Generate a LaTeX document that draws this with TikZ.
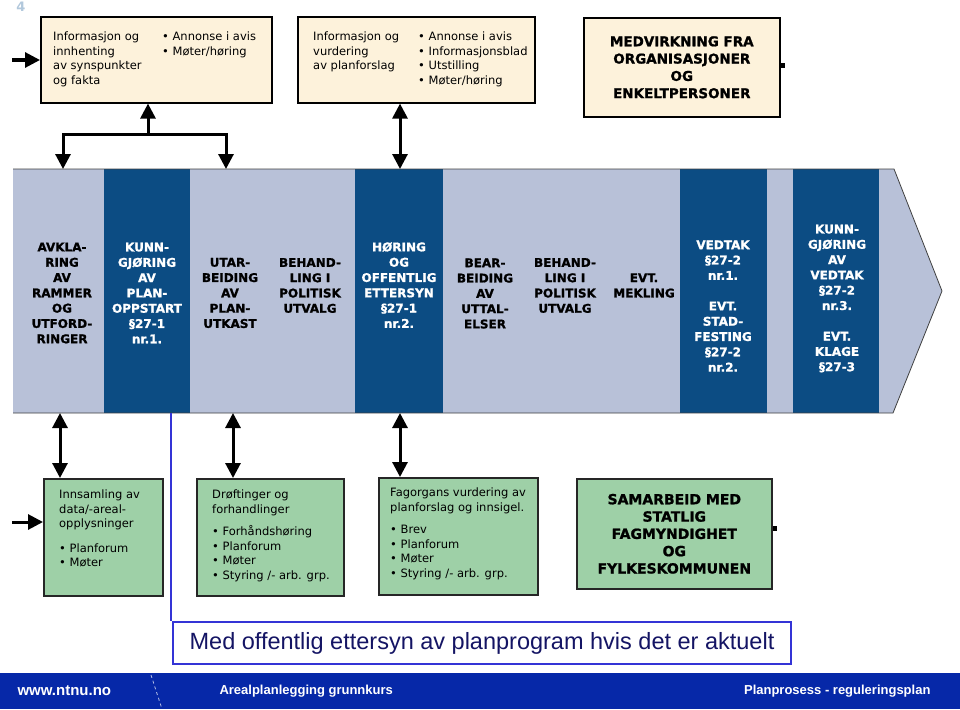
\documentclass[tikz,border=0pt]{standalone}
\usepackage{fontspec}
\setmainfont{DejaVu Sans}
\newfontfamily\heavyfont[FakeBold=1.2]{DejaVu Sans Bold}
\newfontfamily\arialfont{Liberation Sans}
\usetikzlibrary{arrows.meta}
\definecolor{cream}{RGB}{253,242,219}
\definecolor{planlight}{RGB}{184,193,216}
\definecolor{plandark}{RGB}{12,76,131}
\definecolor{mossgreen}{RGB}{158,208,167}
\definecolor{linkblue}{RGB}{52,52,214}
\definecolor{notenavy}{RGB}{20,20,100}
\definecolor{footblue}{RGB}{6,40,168}
\definecolor{slidegrey}{RGB}{178,200,220}

\begin{document}
\begin{tikzpicture}[x=1pt, y=-1pt,
    body/.style={anchor=north west, align=left, inner sep=0pt, font=\fontsize{11.5}{14.5}\selectfont},
    heavy/.style={align=center, inner sep=0pt, font=\heavyfont\fontsize{12}{15.3}\selectfont},
    infobox/.style={draw=black, line width=1.6pt, fill=cream, anchor=north west, inner sep=0pt},
    greenbox/.style={draw=black!85, line width=1.6pt, fill=mossgreen, anchor=north west, inner sep=0pt},
    arr/.style={line width=3pt, line join=miter, -{Triangle[length=15pt,width=15pt]}},
    arrboth/.style={line width=3pt, {Triangle[length=15pt,width=15pt]}-{Triangle[length=15pt,width=15pt]}}]
    \useasboundingbox (0,0) rectangle (960,709);
    \node[font=\bfseries\fontsize{13}{13}\selectfont, text=slidegrey] (slideno) at (21,7) {4};

    \node[infobox, minimum width=231pt, minimum height=86pt] (info1) at (40,16) {};
    \node[body] (info1txt) at (53,32) {Informasjon og\\innhenting\\av synspunkter\\og fakta};
    \node[body] (info1list) at (162,32) {• Annonse i avis\\• Møter/høring};
    \node[infobox, minimum width=237pt, minimum height=86pt] (info2) at (297,16) {};
    \node[body] (info2txt) at (313,32) {Informasjon og\\vurdering\\av planforslag};
    \node[body] (info2list) at (418,32) {• Annonse i avis\\• Informasjonsblad\\• Utstilling\\• Møter/høring};
    \node[infobox, heavy, font=\heavyfont\fontsize{13.5}{17.3}\selectfont, minimum width=196pt, minimum height=99pt] (medv) at (583,17) {MEDVIRKNING FRA\\ORGANISASJONER\\OG\\ENKELTPERSONER};
    \fill (medv.east) ++(0,-4) rectangle ++(4,5);

    \fill[planlight] (13,169) -- (894,169) -- (942,291) -- (893,413) -- (13,413) -- cycle;
    \foreach \a/\b in {104/190, 355/443, 680/767, 793/879}
        \fill[plandark] (\a,169) rectangle (\b,413);
    \draw[black!75, line width=0.8pt] (13,169) -- (894,169) -- (942,291) -- (893,413) -- (13,413);

    \node[heavy] (avklaring) at (62,293) {AVKLA-\\RING\\AV\\RAMMER\\OG\\UTFORD-\\RINGER};
    \node[heavy, text=white] (oppstart) at (147,293) {KUNN-\\GJØRING\\AV\\PLAN-\\OPPSTART\\§27-1\\nr.1.};
    \node[heavy] (utkast) at (230,293) {UTAR-\\BEIDING\\AV\\PLAN-\\UTKAST};
    \node[heavy] (behand1) at (310,285.5) {BEHAND-\\LING I\\POLITISK\\UTVALG};
    \node[heavy, text=white] (horing) at (399,285) {HØRING\\OG\\OFFENTLIG\\ETTERSYN\\§27-1\\nr.2.};
    \node[heavy] (bearbeiding) at (485,293.5) {BEAR-\\BEIDING\\AV\\UTTAL-\\ELSER};
    \node[heavy] (behand2) at (565,285.5) {BEHAND-\\LING I\\POLITISK\\UTVALG};
    \node[heavy] (mekling) at (644,285.5) {EVT.\\MEKLING};
    \node[heavy, text=white] (vedtak) at (723,306) {VEDTAK\\§27-2\\nr.1.\\[15.3pt]EVT.\\STAD-\\FESTING\\§27-2\\nr.2.};
    \node[heavy, text=white] (kunngjoring) at (837,298.5) {KUNN-\\GJØRING\\AV\\VEDTAK\\§27-2\\nr.3.\\[15.3pt]EVT.\\KLAGE\\§27-3};

    \coordinate (feed1) at (12,60);
    \coordinate (fork) at (148,134);
    \coordinate (bandtop1) at (63,169);
    \coordinate (bandtop2) at (226,169);
    \coordinate (bandtop3) at (400,169);
    \draw[arr] (feed1) -- (feed1 -| info1.west);
    \draw[arr] (fork) -- (fork |- info1.south);
    \draw[arr] (fork) -| (bandtop1);
    \draw[arr] (fork) -| (bandtop2);
    \draw[arrboth] (info2.south -| bandtop3) -- (bandtop3);

    \node[greenbox, minimum width=119pt, minimum height=117pt] (innsamling) at (43,478) {};
    \node[body] (innsamlingtxt) at (59,490) {Innsamling av\\data/-areal-\\opplysninger\\[10pt]• Planforum\\• Møter};
    \node[greenbox, minimum width=147pt, minimum height=117pt] (droftinger) at (196,478) {};
    \node[body] (droftingertxt) at (212,490) {Drøftinger og\\forhandlinger\\[8pt]• Forhåndshøring\\• Planforum\\• Møter\\• Styring /- arb. grp.};
    \node[greenbox, minimum width=159pt, minimum height=117pt] (fagorgan) at (378,477) {};
    \node[body] (fagorgantxt) at (390,488) {Fagorgans vurdering av\\planforslag og innsigel.\\[8pt]• Brev\\• Planforum\\• Møter\\• Styring /- arb. grp.};
    \node[greenbox, heavy, font=\heavyfont\fontsize{14}{17.3}\selectfont, minimum width=195pt, minimum height=110pt] (samarbeid) at (576,478) {SAMARBEID MED\\STATLIG\\FAGMYNDIGHET\\OG\\FYLKESKOMMUNEN};
    \fill (samarbeid.east) ++(0,-7.5) rectangle ++(4,5);

    \coordinate (feed2) at (12,522);
    \coordinate (bandbot1) at (60,413);
    \coordinate (bandbot2) at (233,413);
    \coordinate (bandbot3) at (400,413);
    \coordinate (bandlink) at (171,413);
    \draw[arr] (feed2) -- (feed2 -| innsamling.west);
    \draw[arrboth] (bandbot1) -- (bandbot1 |- innsamling.north);
    \draw[arrboth] (bandbot2) -- (bandbot2 |- droftinger.north);
    \draw[arrboth] (bandbot3) -- (bandbot3 |- fagorgan.north);

    \node[draw=linkblue, line width=2pt, fill=white, anchor=north west, inner sep=0pt, minimum width=618pt, minimum height=42pt, text=notenavy, font=\arialfont\fontsize{23.5}{26}\selectfont] (note) at (172,621) {Med offentlig ettersyn av planprogram hvis det er aktuelt};
    \draw[linkblue, line width=2.5pt] (bandlink) -- (bandlink |- note.north);

    \fill[footblue] (0,673) rectangle (960,709);
    \draw[white!70!footblue, dashed, line width=0.8pt] (151,675) -- (162,709);
    \node[anchor=west, text=white, font=\arialfont\bfseries\fontsize{15}{17}\selectfont] (web) at (14,691) {www.ntnu.no};
    \node[anchor=west, text=white, font=\arialfont\bfseries\fontsize{13}{15}\selectfont] (course) at (216,691) {Arealplanlegging grunnkurs};
    \node[anchor=east, text=white, font=\arialfont\bfseries\fontsize{13}{15}\selectfont] (topic) at (934,691) {Planprosess - reguleringsplan};
\end{tikzpicture}
\end{document}
